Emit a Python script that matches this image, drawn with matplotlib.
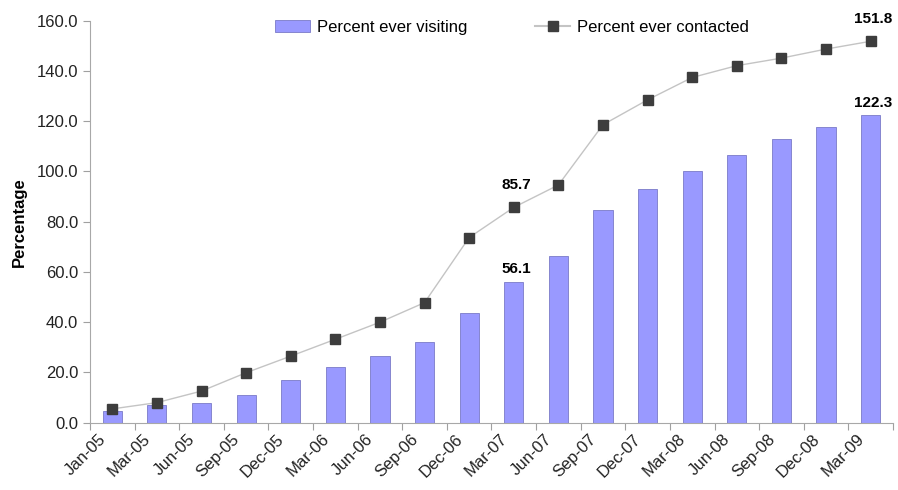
import numpy as np
import matplotlib.pyplot as plt
import matplotlib.transforms as mtransforms
from matplotlib.lines import Line2D
from matplotlib.patches import Patch

plt.rcParams['font.family'] = ['Liberation Sans', 'DejaVu Sans']

months = ['Jan-05', 'Mar-05', 'Jun-05', 'Sep-05', 'Dec-05', 'Mar-06', 'Jun-06', 'Sep-06', 'Dec-06',
          'Mar-07', 'Jun-07', 'Sep-07', 'Dec-07', 'Mar-08', 'Jun-08', 'Sep-08', 'Dec-08', 'Mar-09']
visiting = [4.8, 7.0, 8.0, 11.0, 17.2, 22.3, 26.5, 32.2, 43.5,
            56.1, 66.5, 84.7, 92.9, 100.2, 106.4, 113.0, 117.7, 122.3]
contacted = [5.5, 8.0, 12.6, 19.9, 26.5, 33.2, 40.0, 47.8, 73.7,
             85.7, 94.6, 118.6, 128.5, 137.4, 142.1, 145.1, 148.7, 151.8]
# points that get a bold value label
labelled = ['Mar-07', 'Mar-09']

x = np.arange(len(months))

fig = plt.figure(figsize=(8.98, 4.9), dpi=100)
ax = fig.add_axes([0.1002, 0.1373, 0.8942, 0.8205])

ax.bar(x, visiting, width=0.43, color='#9999ff', edgecolor='#7a7ac8', linewidth=0.6, zorder=2)
ax.plot(x, contacted, color='#c4c4c4', linewidth=1.0, marker='s', markersize=6.5,
        markerfacecolor='#3d3d3d', markeredgecolor='#3d3d3d', zorder=3)

for m in labelled:
    i = months.index(m)
    ax.annotate(f'{contacted[i]:.1f}', (x[i], contacted[i]), xytext=(2, 16), textcoords='offset points',
                ha='center', va='center', fontsize=11, fontweight='bold')
    ax.annotate(f'{visiting[i]:.1f}', (x[i], visiting[i]), xytext=(2, 9), textcoords='offset points',
                ha='center', va='center', fontsize=11, fontweight='bold')

ax.set_xlim(-0.5, len(months) - 0.5)
ax.set_ylim(0, 160)
ax.set_yticks(np.arange(0, 161, 20))
ax.set_yticklabels([f'{v:.1f}' for v in np.arange(0, 161, 20)], fontsize=12, color='#222222')

# ticks on category boundaries, labels at centres
ax.set_xticks(np.arange(-0.5, len(months), 1))
ax.set_xticklabels([])
ax.set_xticks(x, minor=True)
ax.set_xticklabels(months, minor=True, rotation=45, ha='right', va='center',
                   rotation_mode='anchor', fontsize=12, color='#222222')
ax.tick_params(axis='x', which='minor', length=0, pad=10)
ax.tick_params(axis='x', which='major', length=5, color='#a0a0a0')
ax.tick_params(axis='y', length=5, color='#a0a0a0')
offset = mtransforms.ScaledTranslation(-9 / 100, 0, fig.dpi_scale_trans)
for lab in ax.get_xticklabels(minor=True):
    lab.set_transform(lab.get_transform() + offset)

for s in ['top', 'right']:
    ax.spines[s].set_visible(False)
for s in ['left', 'bottom']:
    ax.spines[s].set_color('#a8a8a8')

ax.set_ylabel('Percentage', fontsize=12, fontweight='bold', labelpad=7)

handles = [Patch(facecolor='#9999ff', edgecolor='#7a7ac8', linewidth=0.6),
           Line2D([], [], color='#c4c4c4', marker='s', markersize=6.5,
                  markerfacecolor='#3d3d3d', markeredgecolor='#3d3d3d')]
ax.legend(handles, ['Percent ever visiting', 'Percent ever contacted'], loc='upper center',
          bbox_to_anchor=(0.5255, 1.04), ncol=2, frameon=False, fontsize=12,
          handlelength=2.1, columnspacing=4.1, handletextpad=0.4)

plt.savefig('out.png')
